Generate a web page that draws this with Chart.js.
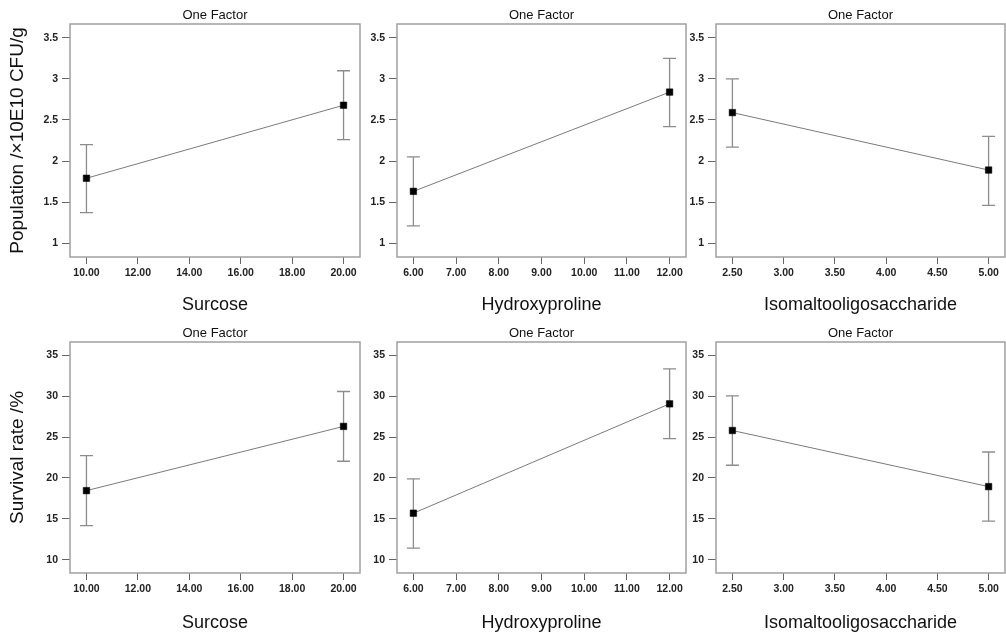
<!DOCTYPE html>
<html>
<head>
<meta charset="utf-8">
<script src="https://cdn.jsdelivr.net/npm/chart.js@4"></script>
<style>
  body { margin: 0; background: #fff; width: 1006px; height: 635px; position: relative; overflow: hidden; }
  canvas { position: absolute; }
</style>
</head>
<body>
<script>
// factors and their two levels
const factorNames = ['Surcose', 'Hydroxyproline', 'Isomaltooligosaccharide'];
const factorLevels = [[10, 20], [6, 12], [2.5, 5]];
const xTicks = [
  [10, 12, 14, 16, 18, 20],
  [6, 7, 8, 9, 10, 11, 12],
  [2.5, 3, 3.5, 4, 4.5, 5]
];

// population (x10E10 CFU/g)
const popMean = [[1.79, 2.68], [1.63, 2.84], [2.59, 1.89]];
const popLow  = [[1.37, 2.26], [1.21, 2.42], [2.17, 1.46]];
const popHigh = [[2.20, 3.10], [2.05, 3.25], [3.00, 2.30]];
const popTicks = [1, 1.5, 2, 2.5, 3, 3.5];
const popRange = [0.83, 3.67];

// survival rate (%)
const survMean = [[18.45, 26.3], [15.69, 29.06], [25.8, 18.94]];
const survLow  = [[14.18, 22.04], [11.42, 24.8], [21.55, 14.72]];
const survHigh = [[22.72, 30.57], [19.88, 33.33], [30.04, 23.17]];
const survTicks = [10, 15, 20, 25, 30, 35];
const survRange = [8.38, 36.62];

const rows = [
  {title: 'Population /\u00d710E10 CFU/g', mean: popMean, low: popLow, high: popHigh, ticks: popTicks, range: popRange},
  {title: 'Survival rate /%', mean: survMean, low: survLow, high: survHigh, ticks: survTicks, range: survRange}
];

// page geometry
const canvasLeft = [0, 362, 688];
const canvasRight = [362, 688, 1006];
const plotLeft = [70, 397, 716];
const plotRight = [360, 686, 1005];
const canvasTop = [0, 318];
const canvasHeight = [318, 317];
const xAxisHeight = [61, 62];

const FONT = '"Liberation Sans", Arial, sans-serif';

const framePlugin = {
  id: 'frameAndErrors',
  beforeDatasetsDraw(chart) {
    const ctx = chart.ctx;
    const a = chart.chartArea;
    const xs = chart.scales.x, ys = chart.scales.y;
    const eb = chart.options.plugins.frameAndErrors;
    ctx.save();
    // error bars
    ctx.strokeStyle = '#8c8c8c';
    ctx.lineWidth = 1.3;
    for (let i = 0; i < eb.levels.length; i++) {
      const px = xs.getPixelForValue(eb.levels[i]);
      const pl = ys.getPixelForValue(eb.low[i]);
      const ph = ys.getPixelForValue(eb.high[i]);
      ctx.beginPath();
      ctx.moveTo(px, pl); ctx.lineTo(px, ph);
      ctx.moveTo(px - 6.5, pl); ctx.lineTo(px + 6.5, pl);
      ctx.moveTo(px - 6.5, ph); ctx.lineTo(px + 6.5, ph);
      ctx.stroke();
    }
    // box round the plot
    ctx.strokeStyle = '#a0a0a0';
    ctx.lineWidth = 1.5;
    ctx.strokeRect(a.left, a.top, a.right - a.left, a.bottom - a.top);
    ctx.restore();
  }
};

rows.forEach((row, r) => {
  factorNames.forEach((name, c) => {
    const cv = document.createElement('canvas');
    const w = canvasRight[c] - canvasLeft[c];
    const h = canvasHeight[r];
    cv.width = w; cv.height = h;
    cv.style.left = canvasLeft[c] + 'px';
    cv.style.top = canvasTop[r] + 'px';
    cv.style.width = w + 'px';
    cv.style.height = h + 'px';
    document.body.appendChild(cv);

    const lv = factorLevels[c];
    const pad = (lv[1] - lv[0]) * 0.064;
    const yw = plotLeft[c] - canvasLeft[c];
    const xh = xAxisHeight[r];
    const xt = xTicks[c];

    new Chart(cv, {
      type: 'line',
      data: {
        datasets: [{
          data: lv.map((x, i) => ({x: x, y: row.mean[c][i]})),
          borderColor: '#7a7a7a',
          borderWidth: 1,
          pointStyle: 'rect',
          pointRadius: 4.6,
          pointBackgroundColor: '#000',
          pointBorderColor: '#000',
          pointBorderWidth: 0.5,
          tension: 0
        }]
      },
      options: {
        responsive: false,
        animation: false,
        devicePixelRatio: 1,
        layout: {autoPadding: false, padding: {left: 0, top: 0, bottom: 0, right: canvasRight[c] - plotRight[c]}},
        plugins: {
          legend: {display: false},
          tooltip: {enabled: false},
          frameAndErrors: {levels: lv, low: row.low[c], high: row.high[c]}
        },
        scales: {
          x: {
            type: 'linear',
            position: 'bottom',
            min: lv[0] - pad,
            max: lv[1] + pad,
            afterBuildTicks: s => { s.ticks = xt.map(v => ({value: v})); },
            afterFit: s => { s.height = xh; s.paddingLeft = 0; s.paddingRight = 0; },
            grid: {display: true, drawOnChartArea: false, drawTicks: true, tickLength: 7, color: '#666', lineWidth: 1},
            border: {display: false},
            ticks: {
              maxRotation: 0,
              autoSkip: false,
              padding: 3,
              color: '#222',
              font: {family: FONT, size: 10.5, weight: 'bold'},
              callback: v => Number(v).toFixed(2)
            },
            title: {
              display: true,
              text: name,
              color: '#111',
              font: {family: FONT, size: 18},
              padding: {top: 0, bottom: r === 0 ? 2.2 : 0.9}
            }
          },
          x2: {
            type: 'linear',
            position: 'top',
            min: 0,
            max: 1,
            afterFit: s => { s.height = 24; },
            grid: {display: false},
            border: {display: false},
            ticks: {display: false},
            title: {
              display: true,
              text: 'One Factor',
              color: '#111',
              font: {family: FONT, size: 13},
              padding: {top: 7.5, bottom: 0}
            }
          },
          y: {
            type: 'linear',
            position: 'left',
            min: row.range[0],
            max: row.range[1],
            afterBuildTicks: s => { s.ticks = row.ticks.map(v => ({value: v})); },
            afterFit: s => { s.width = yw; s.paddingTop = 0; s.paddingBottom = 0; },
            grid: {display: true, drawOnChartArea: false, drawTicks: true, tickLength: 8, color: '#666', lineWidth: 1},
            border: {display: false},
            ticks: {
              padding: 4,
              color: '#222',
              font: {family: FONT, size: 10.5, weight: 'bold'},
              callback: v => String(v)
            },
            title: {
              display: c === 0,
              text: row.title,
              color: '#111',
              font: {family: FONT, size: 19},
              padding: {top: 6.6, bottom: 0}
            }
          }
        }
      },
      plugins: [framePlugin]
    });
  });
});
</script>
</body>
</html>
